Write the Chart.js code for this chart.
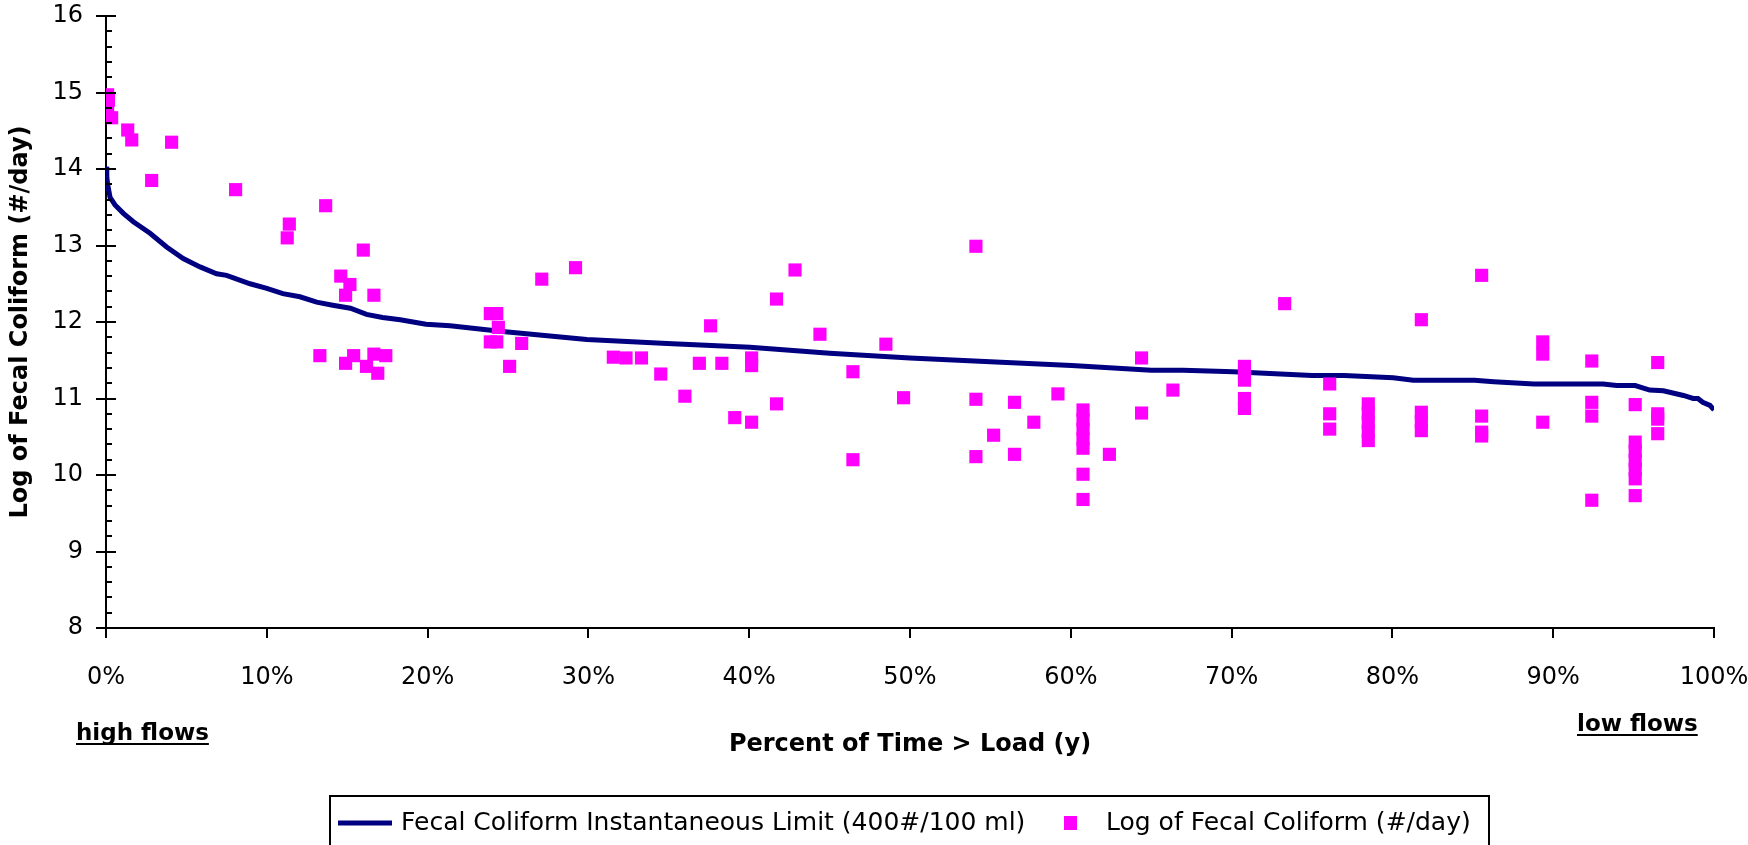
<!DOCTYPE html>
<html>
<head>
<meta charset="utf-8">
<script src="https://cdn.jsdelivr.net/npm/chart.js@4.4.1/dist/chart.umd.min.js"></script>
<style>
html,body{margin:0;padding:0;background:#ffffff;}
#wrap{position:relative;width:1748px;height:845px;}
</style>
</head>
<body>
<div id="wrap"><canvas id="c" width="1748" height="845"></canvas></div>
<script>
// ---- data (percent of time > load, log of fecal coliform) ----
const limitX = [0, 0.05, 0.1, 0.25, 0.56, 1.08, 1.7, 2.74, 3.77, 4.8, 5.85, 6.88, 7.5, 8.96, 10.0, 11.0, 12.06, 13.1, 14.1, 15.2, 16.2, 17.2, 18.3, 19.9, 21.4, 24.5, 29.9, 34.9, 40.05, 45.0, 50.0, 55.0, 60.05, 65.0, 67.0, 70.1, 75.0, 77.0, 80.05, 81.3, 85.1, 86.3, 88.8, 93.1, 93.95, 95.1, 96.0, 96.85, 98.1, 98.7, 99.0, 99.3, 99.75, 100];
const limitY = [14.03, 13.9, 13.8, 13.63, 13.53, 13.42, 13.31, 13.16, 12.98, 12.83, 12.72, 12.63, 12.61, 12.50, 12.44, 12.37, 12.33, 12.26, 12.22, 12.18, 12.10, 12.06, 12.03, 11.97, 11.95, 11.88, 11.77, 11.72, 11.67, 11.59, 11.53, 11.48, 11.43, 11.37, 11.37, 11.35, 11.30, 11.30, 11.27, 11.24, 11.24, 11.22, 11.19, 11.19, 11.17, 11.17, 11.11, 11.10, 11.04, 11.0, 11.0, 10.95, 10.91, 10.85];

const obsX = [0.1, 0.15, 0.1, 0.35, 1.35, 1.6, 2.84, 4.08, 8.06, 11.4, 11.27, 13.66, 16.0, 14.6, 15.17, 14.9, 16.66, 13.3, 14.9, 15.4, 16.2, 16.66, 17.4, 16.9,
  23.9, 24.3, 24.4, 23.9, 24.3, 25.85, 25.1, 27.1, 29.2,
  31.55, 32.34, 33.3, 34.5, 36.0, 36.9, 37.6, 38.3, 39.1, 40.15, 40.15, 40.15, 41.7, 41.7, 42.85, 44.4,
  46.45, 46.45, 48.5, 49.6,
  54.1, 54.1, 54.1, 55.2, 56.5, 56.5, 57.7, 59.2,
  60.76, 60.76, 60.76, 60.76, 60.76, 60.76, 60.76, 62.4,
  64.4, 64.4, 66.35,
  70.8, 70.8, 70.8, 70.8, 70.8, 73.3,
  76.1, 76.1, 76.1,
  78.5, 78.5, 78.5, 78.5, 78.5,
  81.8, 81.8, 81.8, 81.8,
  85.55, 85.55, 85.55, 85.55,
  89.35, 89.35, 89.35,
  92.4, 92.4, 92.4, 92.4,
  95.1, 95.1, 95.1, 95.1, 95.1, 95.1, 95.1,
  96.5, 96.5, 96.5, 96.5];
const obsY = [14.97, 14.9, 14.82, 14.67, 14.51, 14.38, 13.85, 14.35, 13.73, 13.28, 13.10, 13.52, 12.94, 12.60, 12.49, 12.35, 12.35, 11.56, 11.46, 11.56, 11.42, 11.58, 11.56, 11.33,
  12.11, 12.11, 11.93, 11.74, 11.74, 11.72, 11.42, 12.56, 12.71,
  11.54, 11.53, 11.53, 11.32, 11.03, 11.46, 11.95, 11.46, 10.75, 11.53, 11.43, 10.69, 12.30, 10.93, 12.68, 11.84,
  11.35, 10.20, 11.71, 11.01,
  12.99, 10.99, 10.24, 10.52, 10.95, 10.27, 10.69, 11.06,
  10.85, 10.72, 10.60, 10.47, 10.35, 10.01, 9.68, 10.27,
  11.53, 10.81, 11.11,
  11.42, 11.33, 11.24, 11.00, 10.87, 12.24,
  11.19, 10.80, 10.60,
  10.93, 10.81, 10.69, 10.57, 10.45,
  12.03, 10.82, 10.70, 10.58,
  12.61, 10.77, 10.56, 10.51,
  11.74, 11.58, 10.69,
  11.49, 10.95, 10.77, 9.67,
  10.92, 10.43, 10.31, 10.19, 10.07, 9.95, 9.73,
  11.47, 10.80, 10.73, 10.54];

const xTickValues = [0, 10, 20, 30, 40, 50, 60, 70, 80, 90, 100];
const xTickLabels = ['0%', '10%', '20%', '30%', '40%', '50%', '60%', '70%', '80%', '90%', '100%'];
const yTickValues = [8, 9, 10, 11, 12, 13, 14, 15, 16];
const yTickLabels = ['8', '9', '10', '11', '12', '13', '14', '15', '16'];

const seriesNames = ['Fecal Coliform Instantaneous Limit (400#/100 ml)', 'Log of Fecal Coliform (#/day)'];
const xTitle = 'Percent of Time > Load (y)';
const yTitle = 'Log of Fecal Coliform (#/day)';
const leftNote = 'high flows';
const rightNote = 'low flows';

const NAVY = '#000080';
const MAGENTA = '#FF00FF';
const FONT = '"DejaVu Sans", Verdana, sans-serif';

const limitData = limitX.map((x, i) => ({x: x, y: limitY[i]}));
const obsData = obsX.map((x, i) => ({x: x, y: obsY[i]}));

const annot = {
  id: 'annot',
  afterDraw(chart) {
    const ctx = chart.ctx;
    const ys = chart.scales.y;
    const a = chart.chartArea;
    ctx.save();
    // inner ticks on the y axis (major + minor)
    ctx.strokeStyle = '#000';
    ctx.lineWidth = 2;
    for (let k = 1; k <= 40; k++) {
      const v = 8 + k * 0.2;
      const p = Math.round(ys.getPixelForValue(v));
      const major = (k % 5 === 0);
      ctx.beginPath();
      ctx.moveTo(a.left, p);
      ctx.lineTo(a.left + (major ? 10 : 6), p);
      ctx.stroke();
    }
    ctx.fillStyle = '#000';
    // axis titles
    ctx.font = 'bold 24px ' + FONT;
    ctx.textAlign = 'center';
    ctx.textBaseline = 'alphabetic';
    ctx.fillText(xTitle, (a.left + a.right) / 2, 751);
    ctx.save();
    ctx.translate(27, (a.top + a.bottom) / 2);
    ctx.rotate(-Math.PI / 2);
    ctx.fillText(yTitle, 0, 0);
    ctx.restore();
    // flow notes, underlined
    ctx.font = 'bold 23px ' + FONT;
    ctx.textAlign = 'left';
    let w = ctx.measureText(leftNote).width;
    ctx.fillText(leftNote, 76, 740);
    ctx.fillRect(76, 743, w, 2);
    w = ctx.measureText(rightNote).width;
    ctx.fillText(rightNote, 1577, 731);
    ctx.fillRect(1577, 734, w, 2);
    // legend box
    ctx.lineWidth = 2;
    ctx.strokeStyle = '#000';
    ctx.strokeRect(330, 796, 1159, 70);
    ctx.strokeStyle = NAVY;
    ctx.lineWidth = 5;
    ctx.beginPath();
    ctx.moveTo(338, 823);
    ctx.lineTo(392, 823);
    ctx.stroke();
    ctx.fillStyle = MAGENTA;
    ctx.fillRect(1064, 816, 13, 14);
    ctx.fillStyle = '#000';
    ctx.font = '25px ' + FONT;
    ctx.fillText(seriesNames[0], 401, 830);
    ctx.fillText(seriesNames[1], 1106, 830);
    ctx.restore();
  }
};

new Chart(document.getElementById('c'), {
  type: 'scatter',
  data: {
    datasets: [
      {
        label: seriesNames[0],
        data: limitData,
        showLine: true,
        borderColor: NAVY,
        backgroundColor: NAVY,
        borderWidth: 5,
        pointRadius: 0,
        tension: 0,
        order: 2
      },
      {
        label: seriesNames[1],
        data: obsData,
        showLine: false,
        pointStyle: 'rect',
        pointRadius: 9.3,
        pointBorderWidth: 0,
        backgroundColor: MAGENTA,
        borderColor: MAGENTA,
        borderWidth: 0,
        order: 1
      }
    ]
  },
  options: {
    responsive: false,
    animation: false,
    devicePixelRatio: 1,
    layout: {padding: {left: 0, right: 34, top: 16, bottom: 0}},
    plugins: {legend: {display: false}, tooltip: {enabled: false}},
    scales: {
      x: {
        type: 'linear',
        min: 0,
        max: 100,
        afterBuildTicks(scale) { scale.ticks = xTickValues.map(v => ({value: v})); },
        afterFit(scale) {
          scale.height = 845 - 628;
          scale.paddingLeft = 0; scale.paddingRight = 0;
          scale.paddingTop = 0; scale.paddingBottom = 0;
        },
        ticks: {
          color: '#000',
          font: {family: FONT, size: 24},
          padding: 25,
          maxRotation: 0,
          callback: (v) => xTickLabels[xTickValues.indexOf(v)]
        },
        grid: {display: true, drawOnChartArea: false, drawTicks: true, tickLength: 10, color: '#000', lineWidth: 2},
        border: {display: true, color: '#000', width: 2}
      },
      y: {
        type: 'linear',
        min: 8,
        max: 16,
        afterBuildTicks(scale) { scale.ticks = yTickValues.map(v => ({value: v})); },
        afterFit(scale) {
          scale.width = 106;
          scale.paddingLeft = 0; scale.paddingRight = 0;
          scale.paddingTop = 0; scale.paddingBottom = 0;
        },
        ticks: {
          color: '#000',
          font: {family: FONT, size: 24},
          padding: 13,
          callback: (v) => yTickLabels[yTickValues.indexOf(v)]
        },
        grid: {display: true, drawOnChartArea: false, drawTicks: true, tickLength: 10, color: '#000', lineWidth: 2},
        border: {display: true, color: '#000', width: 2}
      }
    }
  },
  plugins: [annot]
});
</script>
</body>
</html>
